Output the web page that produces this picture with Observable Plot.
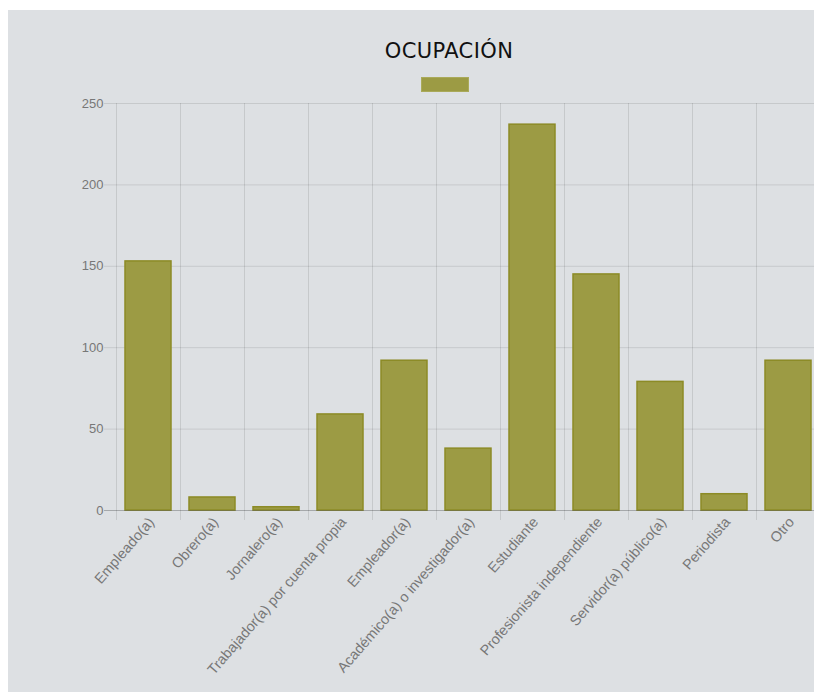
<!DOCTYPE html>
<html>
<head>
<meta charset="utf-8">
<script src="https://cdn.jsdelivr.net/npm/d3@7"></script>
<script src="https://cdn.jsdelivr.net/npm/@observablehq/plot@0.6"></script>
<style>
  html, body { margin: 0; padding: 0; background: #ffffff; overflow: hidden; width: 814px; height: 692px; }
  #panel { position: absolute; left: 8px; top: 10px; width: 830px; height: 700px; background: #dde0e3; overflow: hidden; }
  #title { position: absolute; left: 0; top: 31px; width: 882px; text-align: center; font-family: "DejaVu Sans", sans-serif; font-size: 21px; line-height: 20px; color: #111; letter-spacing: 0.4px; }
  #legend { position: absolute; left: 413px; top: 67px; width: 46px; height: 13px; background: rgb(156,155,68); border: 1px solid rgb(170,170,90); }
  #chart { position: absolute; left: 0; top: 0; }
  #chart svg g[aria-label="x-axis tick label"] text { font-size: 14.4px; }
  #chart svg g[aria-label="y-axis tick label"] text { font-size: 13px; }
</style>
</head>
<body>
<div id="panel">
  <div id="title">OCUPACIÓN</div>
  <div id="legend"></div>
  <div id="chart"></div>
</div>
<script>
const categories = [
  "Empleado(a)",
  "Obrero(a)",
  "Jornalero(a)",
  "Trabajador(a) por cuenta propia",
  "Empleador(a)",
  "Académico(a) o investigador(a)",
  "Estudiante",
  "Profesionista independiente",
  "Servidor(a) público(a)",
  "Periodista",
  "Otro"
];
const values = [153, 8, 2, 59, 92, 38, 237, 145, 79, 10, 92];
const yTicks = [0, 50, 100, 150, 200, 250];

const data = categories.map((c, i) => ({category: c, value: values[i]}));
const grid = "rgba(0,0,0,0.1)";

const chart = Plot.plot({
  width: 830,
  height: 682,
  marginTop: 93,
  marginBottom: 182,
  marginLeft: 108,
  marginRight: 18,
  style: {background: "transparent", fontFamily: "'Liberation Sans', Arial, sans-serif", fontSize: "12px", color: "#777"},
  x: {domain: categories, paddingInner: 0.28, paddingOuter: 0.14, align: 0.5},
  y: {domain: [0, 250]},
  marks: [
    Plot.ruleY(yTicks.slice(1), {stroke: grid, insetLeft: -12}),
    Plot.ruleX(categories, {x: d => d, dx: -32, y1: 250, y2: 0, insetBottom: -10, stroke: grid}),
    Plot.barY(data, {x: "category", y: "value", fill: "rgb(156,155,68)", stroke: "rgb(140,139,38)", strokeWidth: 1.5}),
    Plot.ruleY([0], {stroke: "rgba(0,0,0,0.25)", insetLeft: -12}),
    Plot.axisY({ticks: yTicks, tickSize: 0, tickPadding: 13, label: null, fill: "#777"}),
    Plot.axisX({tickSize: 0, tickPadding: 9, tickRotate: -49, dx: 3, label: null, fill: "#777"})
  ]
});
document.getElementById("chart").appendChild(chart);
</script>
</body>
</html>
